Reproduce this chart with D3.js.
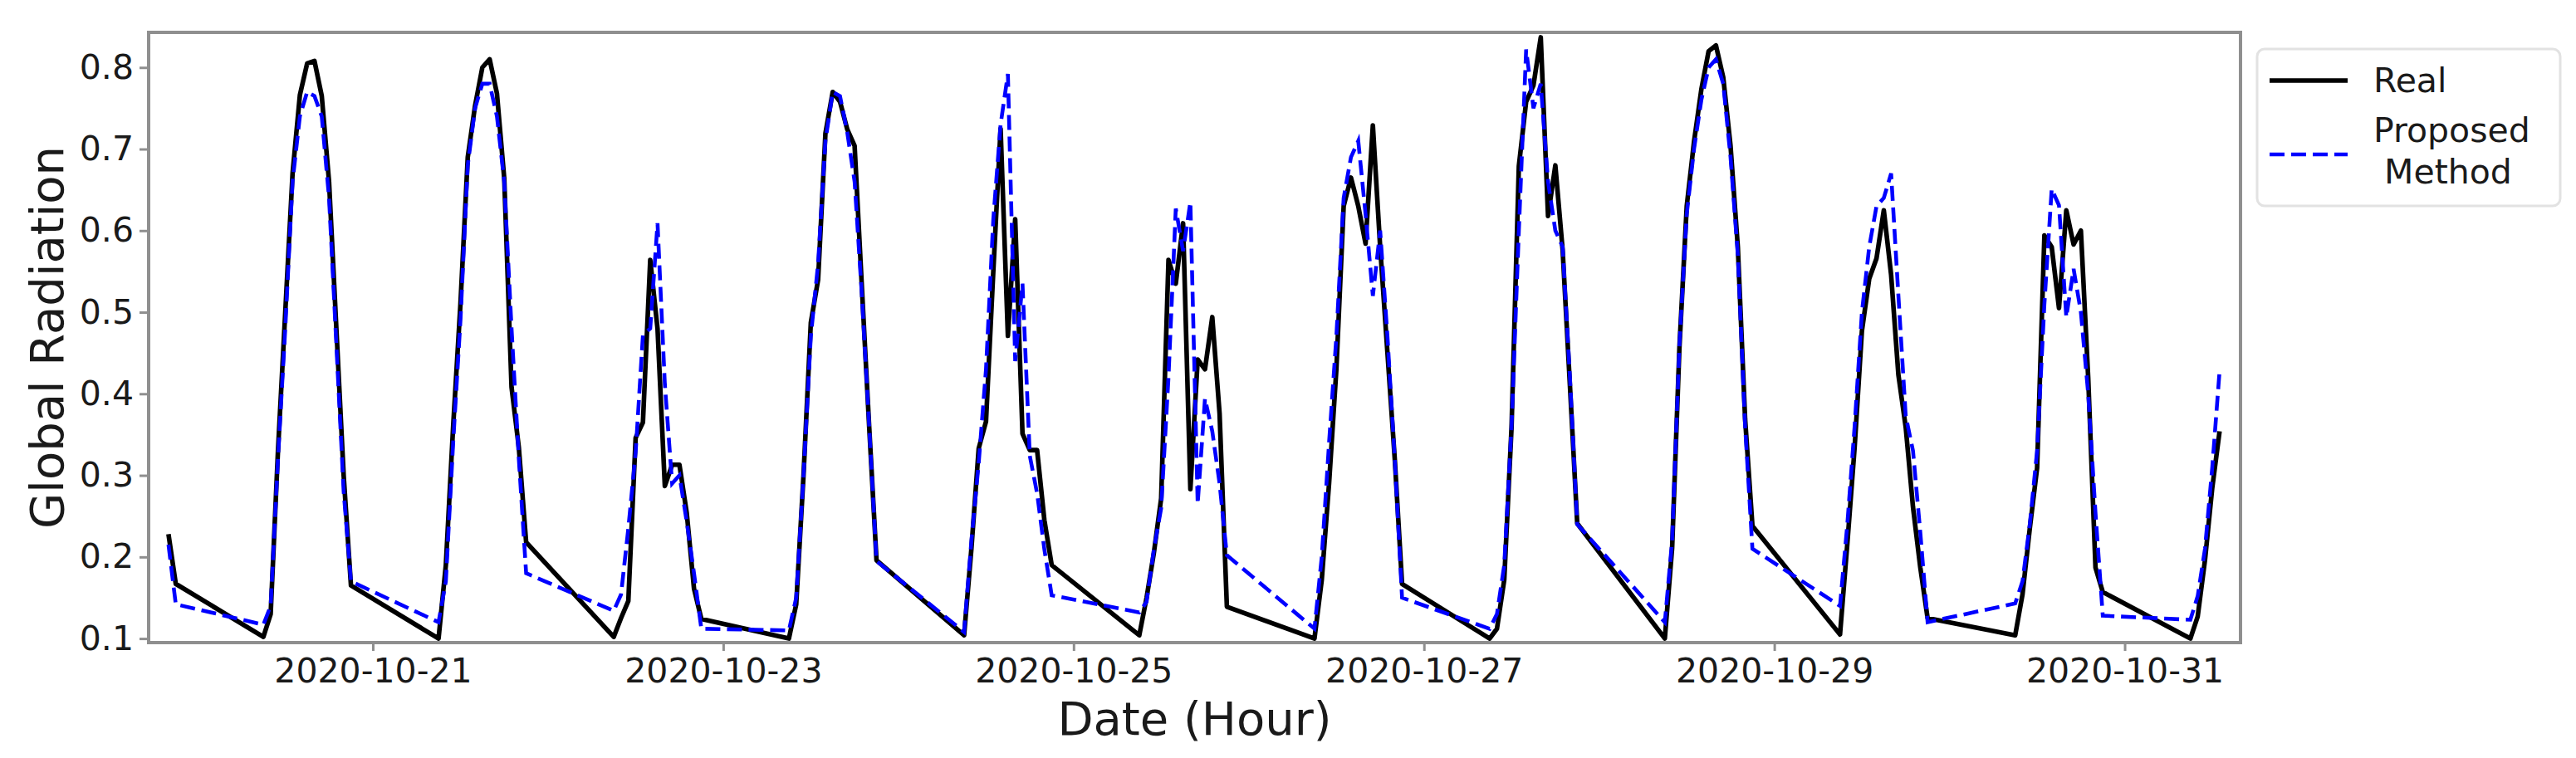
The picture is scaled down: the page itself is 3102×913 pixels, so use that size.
<!DOCTYPE html>
<html>
<head>
<meta charset="utf-8">
<script src="https://cdn.jsdelivr.net/npm/d3@7"></script>
<style>
  body { margin: 0; background: #fff; }
  text { font-family: "DejaVu Sans", sans-serif; fill: #1a1a1a; }
</style>
</head>
<body>
<svg id="chart" width="3102" height="913"></svg>
<script>
// daytime hours only, nights are missing in the data
var days = ["2020-10-20", "2020-10-21", "2020-10-22", "2020-10-23", "2020-10-24", "2020-10-25",
            "2020-10-26", "2020-10-27", "2020-10-28", "2020-10-29", "2020-10-30", "2020-10-31"];
var dayHours = [9, 10, 11, 12, 13, 14, 15, 16, 17, 18, 19, 20, 21];

var leadTimes = ["2020-10-19T20:00", "2020-10-19T21:00"];
var realLead = [0.228, 0.167];
var predLead = [0.215, 0.142];

var realDaily = [
  [0.102, 0.13, 0.33, 0.50, 0.67, 0.766, 0.805, 0.808, 0.765, 0.66, 0.48, 0.30, 0.165],
  [0.100, 0.19, 0.36, 0.51, 0.69, 0.753, 0.80, 0.81, 0.768, 0.664, 0.408, 0.334, 0.218],
  [0.102, 0.125, 0.146, 0.346, 0.365, 0.564, 0.48, 0.287, 0.313, 0.313, 0.254, 0.161, 0.124],
  [0.100, 0.142, 0.30, 0.487, 0.54, 0.719, 0.77, 0.758, 0.724, 0.704, 0.53, 0.359, 0.196],
  [0.104, 0.21, 0.333, 0.366, 0.55, 0.725, 0.471, 0.614, 0.351, 0.331, 0.331, 0.245, 0.19],
  [0.104, 0.15, 0.205, 0.272, 0.564, 0.535, 0.609, 0.283, 0.442, 0.43, 0.494, 0.376, 0.139],
  [0.100, 0.172, 0.29, 0.43, 0.63, 0.665, 0.63, 0.584, 0.729, 0.58, 0.45, 0.32, 0.167],
  [0.100, 0.112, 0.172, 0.359, 0.679, 0.758, 0.778, 0.837, 0.618, 0.68, 0.576, 0.41, 0.241],
  [0.100, 0.211, 0.457, 0.63, 0.709, 0.773, 0.82, 0.827, 0.788, 0.704, 0.58, 0.369, 0.238],
  [0.105, 0.216, 0.334, 0.477, 0.541, 0.566, 0.625, 0.546, 0.423, 0.359, 0.261, 0.187, 0.125],
  [0.104, 0.154, 0.235, 0.309, 0.594, 0.58, 0.505, 0.625, 0.583, 0.60, 0.42, 0.187, 0.157],
  [0.100, 0.127, 0.196, 0.285, 0.354]
];

var predDaily = [
  [0.117, 0.14, 0.32, 0.48, 0.66, 0.74, 0.77, 0.765, 0.74, 0.64, 0.46, 0.28, 0.17],
  [0.12, 0.17, 0.34, 0.49, 0.68, 0.75, 0.78, 0.78, 0.74, 0.66, 0.48, 0.32, 0.18],
  [0.134, 0.154, 0.235, 0.328, 0.472, 0.48, 0.609, 0.412, 0.29, 0.30, 0.243, 0.18, 0.112],
  [0.11, 0.15, 0.30, 0.47, 0.56, 0.71, 0.77, 0.765, 0.72, 0.66, 0.52, 0.36, 0.195],
  [0.108, 0.22, 0.315, 0.43, 0.614, 0.73, 0.792, 0.44, 0.535, 0.324, 0.278, 0.209, 0.153],
  [0.132, 0.145, 0.209, 0.26, 0.42, 0.627, 0.575, 0.635, 0.265, 0.394, 0.354, 0.29, 0.202],
  [0.112, 0.20, 0.34, 0.47, 0.64, 0.69, 0.71, 0.62, 0.52, 0.60, 0.47, 0.32, 0.15],
  [0.112, 0.13, 0.19, 0.36, 0.60, 0.822, 0.75, 0.78, 0.66, 0.60, 0.58, 0.42, 0.24],
  [0.12, 0.22, 0.46, 0.62, 0.70, 0.76, 0.80, 0.81, 0.78, 0.69, 0.57, 0.36, 0.21],
  [0.14, 0.24, 0.36, 0.50, 0.58, 0.63, 0.64, 0.67, 0.52, 0.373, 0.33, 0.23, 0.12],
  [0.143, 0.17, 0.24, 0.33, 0.51, 0.651, 0.631, 0.494, 0.553, 0.50, 0.40, 0.254, 0.128],
  [0.123, 0.152, 0.21, 0.31, 0.428]
];

var yTicks = [0.1, 0.2, 0.3, 0.4, 0.5, 0.6, 0.7, 0.8];
var xDomain = ["2020-10-19T17:17", "2020-10-31T15:52"];
var yDomain = [0.095, 0.843];

var parse = d3.utcParse("%Y-%m-%dT%H:%M");

function buildSeries(lead, daily) {
  var out = leadTimes.map(function(t, i) { return {t: parse(t), v: lead[i]}; });
  daily.forEach(function(vals, di) {
    vals.forEach(function(v, hi) {
      var hh = dayHours[hi] < 10 ? "0" + dayHours[hi] : "" + dayHours[hi];
      out.push({t: parse(days[di] + "T" + hh + ":00"), v: v});
    });
  });
  return out;
}

var real = buildSeries(realLead, realDaily);
var pred = buildSeries(predLead, predDaily);

var margin = {left: 179, right: 3102 - 2698, top: 39, bottom: 913 - 774};
var width = 3102 - margin.left - margin.right;
var height = 913 - margin.top - margin.bottom;

var svg = d3.select("#chart");
var g = svg.append("g").attr("transform", "translate(" + margin.left + "," + margin.top + ")");

var x = d3.scaleUtc().domain(xDomain.map(parse)).range([0, width]);
var y = d3.scaleLinear().domain(yDomain).range([height, 0]);

g.append("clipPath").attr("id", "clip")
  .append("rect").attr("width", width).attr("height", height);

var line = d3.line()
  .x(function(d) { return x(d.t); })
  .y(function(d) { return y(d.v); });

g.append("path")
  .datum(real)
  .attr("clip-path", "url(#clip)")
  .attr("fill", "none")
  .attr("stroke", "#000")
  .attr("stroke-width", 5.6)
  .attr("stroke-linejoin", "round")
  .attr("d", line);

g.append("path")
  .datum(pred)
  .attr("clip-path", "url(#clip)")
  .attr("fill", "none")
  .attr("stroke", "#0000ff")
  .attr("stroke-width", 4.6)
  .attr("stroke-dasharray", "18,8")
  .attr("d", line);

// axes
var xAxis = g.append("g")
  .attr("transform", "translate(0," + height + ")")
  .call(d3.axisBottom(x)
    .ticks(d3.utcDay.every(2))
    .tickFormat(d3.utcFormat("%Y-%m-%d"))
    .tickSize(10)
    .tickPadding(9));

var yAxis = g.append("g")
  .call(d3.axisLeft(y)
    .tickValues(yTicks)
    .tickFormat(d3.format(".1f"))
    .tickSize(11)
    .tickPadding(7));

[xAxis, yAxis].forEach(function(ax) {
  ax.select(".domain").remove();
  ax.selectAll(".tick line").attr("stroke", "#8f8f8f").attr("stroke-width", 3);
  ax.selectAll(".tick text")
    .attr("fill", "#1a1a1a")
    .style("font-size", "41px")
    .style("font-family", "'DejaVu Sans', sans-serif");
});

// frame
g.append("rect")
  .attr("width", width)
  .attr("height", height)
  .attr("fill", "none")
  .attr("stroke", "#8f8f8f")
  .attr("stroke-width", 4);

// axis titles
svg.append("text")
  .attr("x", margin.left + width / 2)
  .attr("y", 885)
  .attr("text-anchor", "middle")
  .style("font-size", "56px")
  .text("Date (Hour)");

svg.append("text")
  .attr("transform", "translate(76," + (margin.top + height / 2) + ") rotate(-90)")
  .attr("text-anchor", "middle")
  .style("font-size", "56px")
  .text("Global Radiation");

// legend
var leg = svg.append("g").attr("transform", "translate(2718,59)");
leg.append("rect")
  .attr("width", 365).attr("height", 189)
  .attr("rx", 9).attr("ry", 9)
  .attr("fill", "#fff")
  .attr("stroke", "#e2e2e2")
  .attr("stroke-width", 3);

leg.append("line")
  .attr("x1", 15).attr("x2", 109).attr("y1", 38).attr("y2", 38)
  .attr("stroke", "#000").attr("stroke-width", 5.6);
leg.append("text")
  .attr("x", 140).attr("y", 52)
  .style("font-size", "41px")
  .text("Real");

leg.append("line")
  .attr("x1", 15).attr("x2", 109).attr("y1", 127).attr("y2", 127)
  .attr("stroke", "#0000ff").attr("stroke-width", 4.6)
  .attr("stroke-dasharray", "18,8");
var t2 = leg.append("text")
  .attr("x", 140).attr("y", 112)
  .style("font-size", "41px")
  .style("white-space", "pre");
t2.append("tspan").attr("x", 140).text("Proposed");
t2.append("tspan").attr("x", 140).attr("dy", 50).text(" Method");
</script>
</body>
</html>
